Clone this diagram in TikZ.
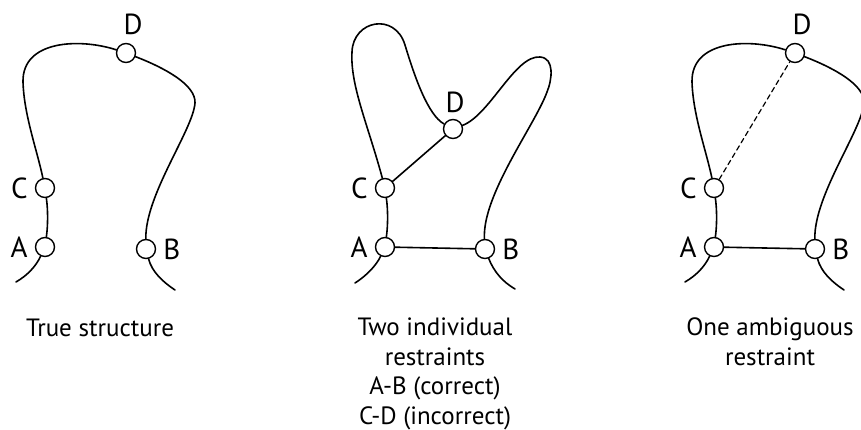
\documentclass[tikz,border=0pt]{standalone}
\usepackage{fontspec}
\setmainfont{PT Sans}
\usetikzlibrary{positioning}

\begin{document}
\begin{tikzpicture}[x=1pt, y=-1pt, line cap=round, line join=round,
    bead/.style={circle, draw, fill=white, line width=1.4pt, minimum size=19pt, inner sep=0pt},
    tag/.style={inner sep=0pt, font=\fontsize{29}{29}\selectfont},
    chain/.style={line width=1.6pt},
    caption/.style={inner sep=0pt, align=center, font=\fontsize{25}{29.5}\selectfont}]
  \useasboundingbox (0,0) rectangle (861,430);
  \clip (0,0) rectangle (861,430);

  % true fold: left panel and right panel
  \foreach \sx/\p in {0/t, 669/o} {
    \begin{scope}[xshift=\sx pt, name prefix=\p]
      \node[bead] (A) at (45,247) {};
      \node[bead] (C) at (45,188) {};
      \node[bead] (D) at (126,53) {};
      \node[bead] (B) at (146,249) {};
      \node[tag, left=7pt of A] (Alab) {A};
      \node[tag, left=7pt of C] (Clab) {C};
      \node[tag, right=7pt of B] (Blab) {B};
      \node[tag, above=8pt of D, xshift=7pt] (Dlab) {D};
      \coordinate (s) at (16,282);
      \coordinate (e) at (175,290);
      \draw[chain] (s) .. controls (28,275) and (36,266) .. (A);
      \draw[chain] (A) .. controls (48,225) and (48,210) .. (C);
      \draw[chain] (C) .. controls (37,150) and (24,115) .. (23,82)
                       .. controls (22,40) and (80,38) .. (D);
      \draw[chain] (D) .. controls (165,68) and (196,85) .. (195,103)
                       .. controls (193,130) and (145,195) .. (B);
      \draw[chain] (B) .. controls (152,272) and (163,282) .. (e);
    \end{scope}
  }

  % middle panel: wrong fold
  \node[bead] (mA) at (385,247) {};
  \node[bead] (mC) at (385,188) {};
  \node[bead] (mD) at (453,129) {};
  \node[bead] (mB) at (485,249) {};
  \node[tag, left=7pt of mA] (mAlab) {A};
  \node[tag, left=7pt of mC] (mClab) {C};
  \node[tag, right=7pt of mB] (mBlab) {B};
  \node[tag, above=6pt of mD, xshift=2pt] (mDlab) {D};
  \coordinate (ms) at (355,283);
  \coordinate (me) at (515,289);
  \draw[chain] (ms) .. controls (366,276) and (376,266) .. (mA);
  \draw[chain] (mA) .. controls (388,225) and (388,210) .. (mC);
  \draw[chain] (mC) .. controls (368,125) and (350,85) .. (352,52)
                    .. controls (353,20) and (395,12) .. (405,45)
                    .. controls (415,78) and (428,115) .. (mD);
  \draw[chain] (mD) .. controls (490,115) and (515,55) .. (540,57)
                    .. controls (555,58) and (552,80) .. (547,92)
                    .. controls (535,125) and (482,195) .. (mB);
  \draw[chain] (mB) .. controls (494,272) and (503,282) .. (me);
  \draw[chain] (mA) -- (mB);
  \draw[chain] (mC) -- (mD);

  % restraints in the right panel
  \draw[chain] (oA) -- (oB);
  \draw[chain, line width=1.2pt, dash pattern=on 5pt off 3.5pt] (oC) -- (oD);

  % captions, placed by the baseline of their last line
  \node[caption, anchor=base] (cap1) at (100,336) {True structure};
  \node[caption, anchor=base] (cap2) at (435,424) {Two individual\\restraints\\A-B (correct)\\C-D (incorrect)};
  \node[caption, anchor=base] (cap3) at (770,365) {One ambiguous\\restraint};
\end{tikzpicture}
\end{document}
